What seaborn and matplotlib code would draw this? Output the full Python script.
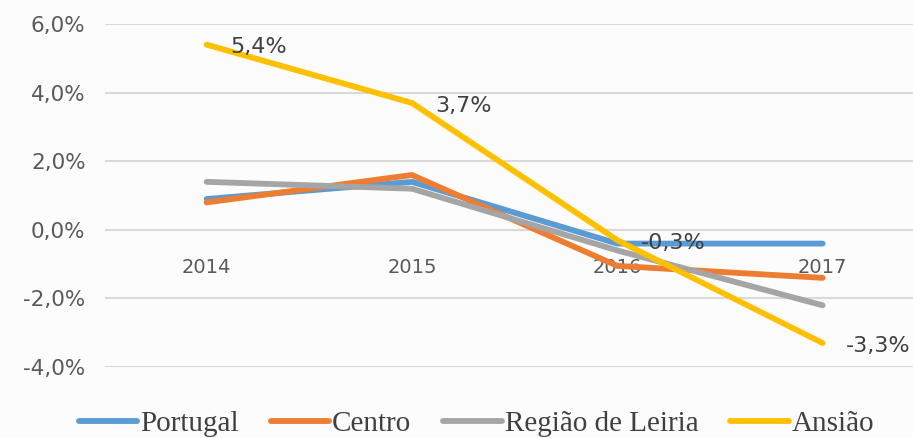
import pandas as pd
import matplotlib.pyplot as plt
import seaborn as sns

# Data (annual growth, %)
years = ["2014", "2015", "2016", "2017"]
portugal = [0.9, 1.4, -0.4, -0.4]
centro = [0.8, 1.6, -1.05, -1.4]
leiria = [1.4, 1.2, -0.6, -2.2]
ansiao = [5.4, 3.7, -0.3, -3.3]
ansiao_labels = ["5,4%", "3,7%", "-0,3%", "-3,3%"]

series = {"Portugal": portugal, "Centro": centro,
          "Região de Leiria": leiria, "Ansião": ansiao}
colors = {"Portugal": "#5B9BD5", "Centro": "#ED7D31",
          "Região de Leiria": "#A5A5A5", "Ansião": "#FFC000"}

rows = []
for name, vals in series.items():
    for i, v in enumerate(vals):
        rows.append({"x": i, "year": years[i], "value": v, "serie": name})
df = pd.DataFrame(rows)

sns.set_style("white")
fig = plt.figure(figsize=(9.13, 4.38), dpi=100)
fig.patch.set_facecolor("#FCFCFC")
ax = fig.add_axes([0.115, 0.162, 0.885, 0.783])
ax.set_facecolor("#FCFCFC")

sns.lineplot(data=df, x="x", y="value", hue="serie", palette=colors,
             linewidth=4.2, ax=ax, legend=False, solid_capstyle="round")

# Data labels for Ansião
for i, (v, lab) in enumerate(zip(ansiao, ansiao_labels)):
    ax.annotate(lab, (i, v), xytext=(17, -2), textcoords="offset points",
                ha="left", va="center", fontsize=16, color="#404040")

for s in ax.spines.values():
    s.set_visible(False)
ax.spines["bottom"].set_position(("data", 0))

ax.set_xlim(-0.495, 3.44)
ax.set_ylim(-4, 6)
yt = [-4, -2, 0, 2, 4, 6]
ax.set_yticks(yt)
ax.set_yticklabels([f"{t:.1f}%".replace(".", ",") for t in yt],
                   fontsize=15.5, color="#595959")
ax.set_xticks(range(len(years)))
ax.set_xticklabels(years, fontsize=14, color="#595959")
ax.grid(axis="y", color="#D9D9D9", linewidth=1.5)
ax.set_axisbelow(True)
ax.tick_params(axis="x", length=0, pad=20)
ax.tick_params(axis="y", length=0, pad=14)
ax.set_xlabel("")
ax.set_ylabel("")

handles = [plt.Line2D([], [], color=colors[n], linewidth=4.2, solid_capstyle="round")
           for n in series]
fig.legend(handles, list(series.keys()), loc="center", bbox_to_anchor=(0.522, 0.032),
           ncol=4, frameon=False, handlelength=2.0, handletextpad=0.1,
           columnspacing=1.1, prop={"family": "Liberation Serif", "size": 21})
for t in fig.legends[0].get_texts():
    t.set_color("#404040")

fig.savefig("out.png", dpi=100, facecolor=fig.get_facecolor())
